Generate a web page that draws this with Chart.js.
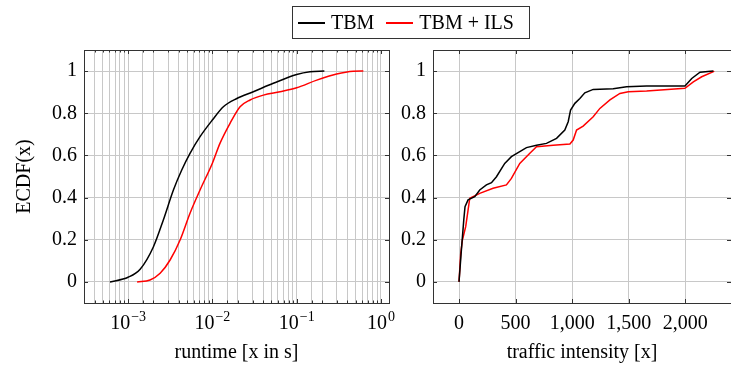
<!DOCTYPE html>
<html>
<head>
<meta charset="utf-8">
<script src="https://cdn.jsdelivr.net/npm/chart.js@4"></script>
<style>
  html, body { margin: 0; padding: 0; background: #fff; }
  body { width: 731px; height: 369px; position: relative; overflow: hidden; font-family: "Liberation Serif", serif; }
  #c1 { position: absolute; left: 0; top: 0; }
  #c2 { position: absolute; left: 392px; top: 0; }
  #legend { position: absolute; left: 292px; top: 6px; width: 236px; height: 31px; border: 1px solid #333;
            display: flex; align-items: center; font-size: 20px; color: #000; box-sizing: content-box; }
  .item { display: flex; align-items: center; }
  .sw { display: inline-block; width: 27px; height: 2px; margin: 0 6px 0 5px; }
</style>
</head>
<body>
<canvas id="c1" width="405" height="369"></canvas>
<canvas id="c2" width="339" height="369"></canvas>
<div id="legend">
  <span class="item"><span class="sw" style="background:#000"></span>TBM</span>
  <span class="item" style="margin-left:7px"><span class="sw" style="background:#f00"></span>TBM + ILS</span>
</div>
<script>
// ---- data ----
const seriesNames = ['TBM', 'TBM + ILS'];
const seriesColors = ['#000000', '#ff0000'];

// Left: runtime ECDF
const runtimeTBM_x = [0.00061, 0.0010, 0.00139, 0.0020, 0.00262, 0.00345, 0.00433, 0.00543, 0.00714, 0.0100, 0.0135, 0.0195, 0.0306, 0.0528, 0.100, 0.144, 0.213];
const runtimeTBM_y = [0.000, 0.022, 0.060, 0.167, 0.294, 0.436, 0.531, 0.610, 0.689, 0.768, 0.831, 0.870, 0.902, 0.942, 0.984, 0.997, 1.000];
const runtimeILS_x = [0.00128, 0.00182, 0.0024, 0.00315, 0.00414, 0.00543, 0.00714, 0.0100, 0.0123, 0.0162, 0.0213, 0.028, 0.0403, 0.0635, 0.100, 0.173, 0.298, 0.47, 0.618];
const runtimeILS_y = [0.000, 0.009, 0.041, 0.104, 0.199, 0.326, 0.436, 0.563, 0.657, 0.752, 0.831, 0.863, 0.886, 0.902, 0.921, 0.957, 0.986, 0.999, 1.000];

// Right: traffic intensity ECDF
const trafficTBM_x = [0, 21, 42, 53, 80, 139, 183, 242, 287, 331, 404, 463, 537, 596, 685, 773, 862, 935, 965, 986, 1024, 1068, 1112, 1186, 1363, 1481, 1658, 1997, 2057, 2130, 2248];
const trafficTBM_y = [0.000, 0.152, 0.294, 0.357, 0.389, 0.404, 0.436, 0.460, 0.471, 0.499, 0.562, 0.594, 0.618, 0.637, 0.648, 0.657, 0.681, 0.720, 0.760, 0.815, 0.847, 0.870, 0.897, 0.913, 0.916, 0.926, 0.929, 0.929, 0.965, 0.995, 1.000];
const trafficILS_x = [0, 15, 30, 59, 80, 95, 183, 301, 419, 463, 537, 626, 685, 832, 980, 1009, 1039, 1097, 1186, 1245, 1334, 1422, 1496, 1658, 1997, 2071, 2145, 2248, 2255];
const trafficILS_y = [0.000, 0.136, 0.199, 0.262, 0.341, 0.397, 0.420, 0.444, 0.460, 0.491, 0.562, 0.610, 0.641, 0.648, 0.654, 0.673, 0.720, 0.739, 0.783, 0.823, 0.863, 0.894, 0.902, 0.905, 0.918, 0.949, 0.973, 0.997, 1.000];

// Ticks
const yTickValues = [0, 0.2, 0.4, 0.6, 0.8, 1];
const yTickLabels = ['0', '0.2', '0.4', '0.6', '0.8', '1'];
const runtimeTickValues = [1e-3, 1e-2, 1e-1, 1];
const runtimeTickBase = '10';
const runtimeTickExps = ['\u22123', '\u22122', '\u22121', '0'];
const trafficTickValues = [0, 500, 1000, 1500, 2000];
const trafficTickLabels = ['0', '500', '1,000', '1,500', '2,000'];

const yLabel = 'ECDF(x)';
const xLabelLeft = 'runtime [x in s]';
const xLabelRight = 'traffic intensity [x]';

// ---- helpers ----
const zip = (xs, ys) => xs.map((x, i) => ({ x, y: ys[i] }));
const FONT = '"Liberation Serif", serif';
const FS = 20;
const GRID = '#c8c8c8';
const AXIS = '#333333';
const isMajorRuntime = v => runtimeTickValues.some(t => Math.abs(v - t) / t < 1e-6);

const framePlugin = {
  id: 'frame',
  afterDraw(chart) {
    const { ctx, chartArea: a, scales } = chart;
    ctx.save();
    ctx.strokeStyle = AXIS;
    ctx.lineWidth = 1;
    ctx.beginPath();
    scales.y.ticks.forEach(t => {
      const p = Math.round(scales.y.getPixelForValue(t.value)) + 0.5;
      ctx.moveTo(a.left, p); ctx.lineTo(a.left + 4, p);
      ctx.moveTo(a.right, p); ctx.lineTo(a.right - 4, p);
    });
    const isLog = chart.options.scales.x.type === 'logarithmic';
    scales.x.ticks.forEach(t => {
      const len = (!isLog || isMajorRuntime(t.value)) ? 4 : 2.5;
      const p = Math.round(scales.x.getPixelForValue(t.value)) + 0.5;
      if (p <= a.left + 1 || p >= a.right - 1) return;
      ctx.moveTo(p, a.bottom); ctx.lineTo(p, a.bottom - len);
      ctx.moveTo(p, a.top); ctx.lineTo(p, a.top + len);
    });
    ctx.stroke();
    ctx.strokeRect(Math.round(a.left) + 0.5, Math.round(a.top) + 0.5, Math.round(a.right - a.left), Math.round(a.bottom - a.top));
    ctx.restore();
  }
};

// power-of-ten tick labels with a real superscript exponent
const powerLabelPlugin = {
  id: 'powerLabels',
  afterDraw(chart) {
    const { ctx, chartArea: a, scales } = chart;
    const baseFont = FS + 'px ' + FONT;
    const expFont = '14px ' + FONT;
    ctx.save();
    ctx.fillStyle = '#000';
    ctx.textBaseline = 'alphabetic';
    ctx.textAlign = 'left';
    runtimeTickValues.forEach((v, i) => {
      const x = scales.x.getPixelForValue(v);
      ctx.font = baseFont; const wb = ctx.measureText(runtimeTickBase).width;
      ctx.font = expFont; const we = ctx.measureText(runtimeTickExps[i]).width;
      const x0 = x - (wb + we + 1) / 2;
      const yb = a.bottom + 26;
      ctx.font = baseFont; ctx.fillText(runtimeTickBase, x0, yb);
      ctx.font = expFont; ctx.fillText(runtimeTickExps[i], x0 + wb + 1, yb - 8);
    });
    ctx.restore();
  }
};

function yScale(width) {
  return {
    min: -0.1, max: 1.1,
    afterBuildTicks: s => { s.ticks = yTickValues.map(v => ({ value: v })); },
    afterFit: s => { s.width = width; },
    grid: { color: GRID, lineWidth: 1, drawTicks: false },
    border: { display: false },
    ticks: {
      padding: 7, color: '#000', font: { family: FONT, size: FS },
      callback: v => { const i = yTickValues.findIndex(t => Math.abs(t - v) < 1e-9); return i >= 0 ? yTickLabels[i] : ''; }
    },
    title: { display: width > 60, text: yLabel, color: '#000', font: { family: FONT, size: FS }, padding: { top: 13, bottom: 0 } }
  };
}

function ds(data, i, smooth) {
  return {
    label: seriesNames[i], data, borderColor: seriesColors[i], backgroundColor: seriesColors[i],
    borderWidth: 1.5, pointRadius: 0, showLine: true, fill: false,
    cubicInterpolationMode: smooth ? 'monotone' : 'default', tension: 0
  };
}

const common = {
  responsive: false, animation: false, devicePixelRatio: 1,
  plugins: { legend: { display: false }, tooltip: { enabled: false } }
};

new Chart(document.getElementById('c1'), {
  type: 'scatter',
  data: { datasets: [ds(zip(runtimeTBM_x, runtimeTBM_y), 0, true), ds(zip(runtimeILS_x, runtimeILS_y), 1, true)] },
  options: Object.assign({}, common, {
    layout: { padding: { top: 50, right: 16, left: 0, bottom: 0 } },
    scales: {
      x: {
        type: 'logarithmic', min: 3.0e-4, max: 1.245,
        afterFit: s => { s.height = 66; },
        grid: { color: GRID, lineWidth: 1, drawTicks: false },
        border: { display: false },
        ticks: {
          autoSkip: false, maxRotation: 0, padding: 9, color: '#000', font: { family: FONT, size: FS },
          callback: () => ''   // drawn with superscripts by powerLabelPlugin
        },
        title: { display: true, text: xLabelLeft, color: '#000', font: { family: FONT, size: FS }, padding: { top: 0, bottom: 4 } }
      },
      y: yScale(84)
    }
  }),
  plugins: [framePlugin, powerLabelPlugin]
});

new Chart(document.getElementById('c2'), {
  type: 'scatter',
  data: { datasets: [ds(zip(trafficTBM_x, trafficTBM_y), 0, false), ds(zip(trafficILS_x, trafficILS_y), 1, false)] },
  options: Object.assign({}, common, {
    layout: { padding: { top: 50, right: 0, left: 0, bottom: 0 } },
    scales: {
      x: {
        type: 'linear', min: -230, max: 2404,
        afterBuildTicks: s => { s.ticks = trafficTickValues.map(v => ({ value: v })); },
        afterFit: s => { s.height = 66; },
        grid: { color: GRID, lineWidth: 1, drawTicks: false },
        border: { display: false },
        ticks: {
          autoSkip: false, maxRotation: 0, padding: 9, color: '#000', font: { family: FONT, size: FS },
          callback: v => { const i = trafficTickValues.indexOf(v); return i >= 0 ? trafficTickLabels[i] : ''; }
        },
        title: { display: true, text: xLabelRight, color: '#000', font: { family: FONT, size: FS }, padding: { top: 0, bottom: 4 } }
      },
      y: yScale(41)
    }
  }),
  plugins: [framePlugin]
});
</script>
</body>
</html>
